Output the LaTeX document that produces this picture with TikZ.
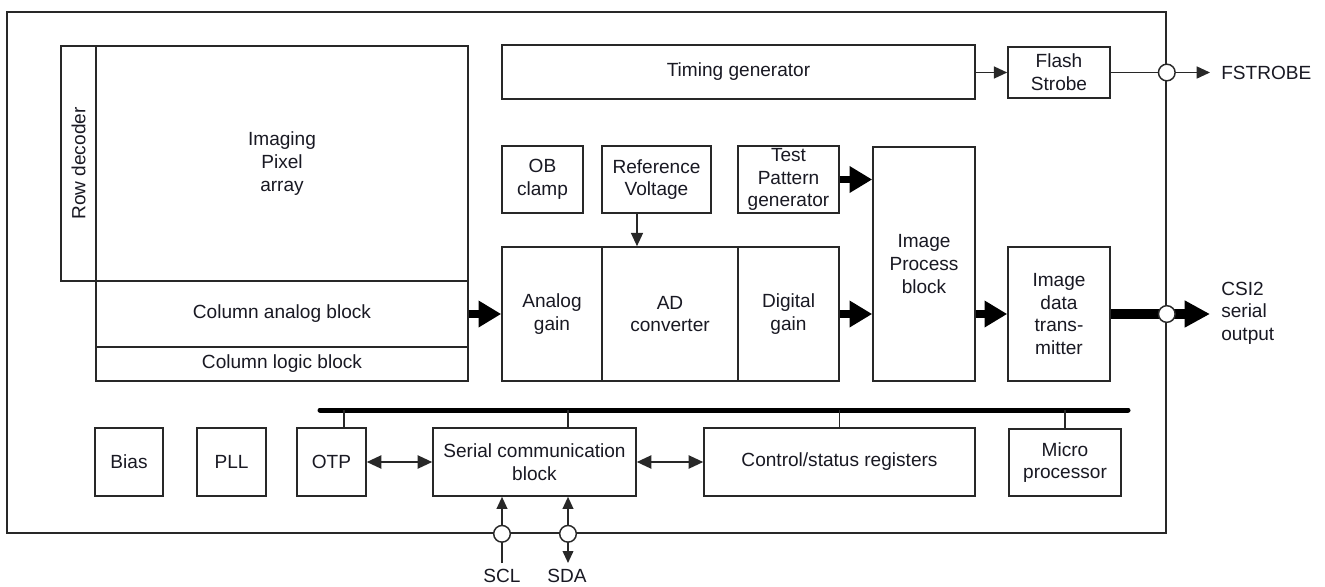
\documentclass[tikz,border=0pt]{standalone}
\usepackage{fontspec}
\setmainfont{Liberation Sans}
\usetikzlibrary{arrows.meta,calc}
\definecolor{ln}{RGB}{40,40,40}
\definecolor{tx}{RGB}{25,25,35}
\newcommand\blkbox[6]{%
  \node[blk, minimum width={(#4-#2)*0.75pt}, minimum height={(#5-#3)*0.75pt}]
    (#1) at ({(#2+#4)/2},{(#3+#5)/2}) {#6};}
\begin{document}
\begin{tikzpicture}[x=0.75pt,y=-0.75pt,
  blk/.style={draw=ln,line width=1.2pt,inner sep=0pt,fill=white,align=center,text=tx,
              font=\fontsize{14.3}{17}\selectfont},
  lbl/.style={inner sep=0pt,text=tx,align=left,font=\fontsize{14.3}{17}\selectfont},
  port/.style={circle,draw=ln,fill=white,line width=1.1pt,minimum size=12.5pt,inner sep=0pt},
  thin/.style={draw=ln,line width=1.2pt},
  thinarr/.style={thin,-{Triangle[length=10pt,width=9pt]}},
  pinarr/.style={thin,-{Triangle[length=9pt,width=8pt]}},
  pindbl/.style={thin,{Triangle[length=9pt,width=8pt]}-{Triangle[length=9pt,width=8pt]}},
  dblarr/.style={thin,{Triangle[length=11pt,width=10pt]}-{Triangle[length=11pt,width=10pt]}},
  fat/.style={draw=black,line width=5.5pt,-{Triangle[length=17pt,width=19pt]}},
  fatter/.style={draw=black,line width=7.5pt,-{Triangle[length=19pt,width=19pt]}},
  bus/.style={draw=black,line width=3.75pt,line cap=round}
]
\useasboundingbox (0,0) rectangle (1325,586);
\fill[white] (0,0) rectangle (1325,586);

% chip outline
\blkbox{chip}{7}{12}{1166}{533}{}

% sensor array
\blkbox{rd}{61}{46}{96}{281}{}
\node[lbl, rotate=90, align=center] (rdt) at (rd.center) {Row decoder};
\blkbox{pix}{96}{46}{468}{281}{Imaging\\Pixel\\array}
\blkbox{cab}{96}{281}{468}{347}{\raisebox{-2pt}{Column analog block}}
\blkbox{clb}{96}{347}{468}{381}{\raisebox{-1pt}{Column logic block}}

% top row
\blkbox{tg}{502}{45}{975}{99}{Timing generator}
\blkbox{fs}{1008}{47}{1110}{98}{Flash\\Strobe}

% middle
\blkbox{ob}{502}{146}{583}{213}{OB\\clamp}
\blkbox{rv}{602}{146}{711}{213}{Reference\\Voltage}
\blkbox{tp}{738}{146}{839}{213}{Test\\Pattern\\generator}
\blkbox{ag}{502}{247}{602}{381}{Analog\\gain}
\blkbox{adc}{602}{247}{738}{381}{AD\\converter}
\blkbox{dg}{738}{247}{839}{381}{Digital\\gain}
\blkbox{ip}{873}{147}{975}{381}{Image\\Process\\block}
\blkbox{idt}{1008}{247}{1110}{381}{Image\\data\\trans-\\mitter}

% bottom row
\blkbox{bias}{95}{428}{163}{496}{Bias}
\blkbox{pll}{197}{428}{266}{496}{PLL}
\blkbox{otp}{297}{428}{366}{496}{OTP}
\blkbox{scb}{433}{428}{636}{496}{Serial communication\\block}
\blkbox{csr}{704}{428}{975}{496}{Control/status registers}
\blkbox{mp}{1009}{429}{1121}{496}{Micro\\processor}

% helper coordinates
\coordinate (outx) at (1210,0);
\coordinate (refx) at (637,0);
\coordinate (sclx) at (502,0);
\coordinate (sdax) at (568,0);
\coordinate (pinbot) at (0,563);
\coordinate (busL) at (320,410);
\coordinate (busR) at (1128,410);
\coordinate (stubO) at (344,410);
\coordinate (stubS) at (568,410);

% data path arrows
\draw[fat] (cab.east) -- (ag.west);
\draw[fat] (dg.east) -- (dg.east -| ip.west);
\draw[fat] (tp.east) -- (tp.east -| ip.west);
\draw[fat] (idt.west -| ip.east) -- (idt.west);
\draw[fatter] (idt.east) -- (idt.east -| outx);

% control arrows
\draw[thinarr] (refx |- rv.south) -- (refx |- adc.north);
\draw[thinarr] (tg.east |- fs.west) -- (fs.west);
\draw[thinarr] (fs.east) -- (fs.east -| outx);

% bus
\draw[bus] (busL) -- (busR);
\draw[thin] (stubO) -- (stubO |- otp.north);
\draw[thin] (stubS) -- (stubS |- scb.north);
\draw[thin] (csr.north |- busL) -- (csr.north);
\draw[thin] (mp.north |- busL) -- (mp.north);

% bidirectional
\draw[dblarr] (otp.east) -- (scb.west);
\draw[dblarr] (scb.east) -- (csr.west);

% pins
\draw[pinarr] (sclx |- pinbot) -- (sclx |- scb.south);
\draw[pindbl] (sdax |- pinbot) -- (sdax |- scb.south);

% ports on chip boundary
\node[port] (pF) at (fs.east -| chip.east) {};
\node[port] (pC) at (idt.east -| chip.east) {};
\node[port] (pSCL) at (sclx |- chip.south) {};
\node[port] (pSDA) at (sdax |- chip.south) {};

% external labels
\node[lbl, anchor=west] (fstrobe) at (1221,73) {FSTROBE};
\node[lbl, anchor=west] (csi) at (1221,313) {CSI2\\serial\\output};
\node[lbl] (scl) at (502,576) {SCL};
\node[lbl] (sda) at (567,576) {SDA};
\end{tikzpicture}
\end{document}
